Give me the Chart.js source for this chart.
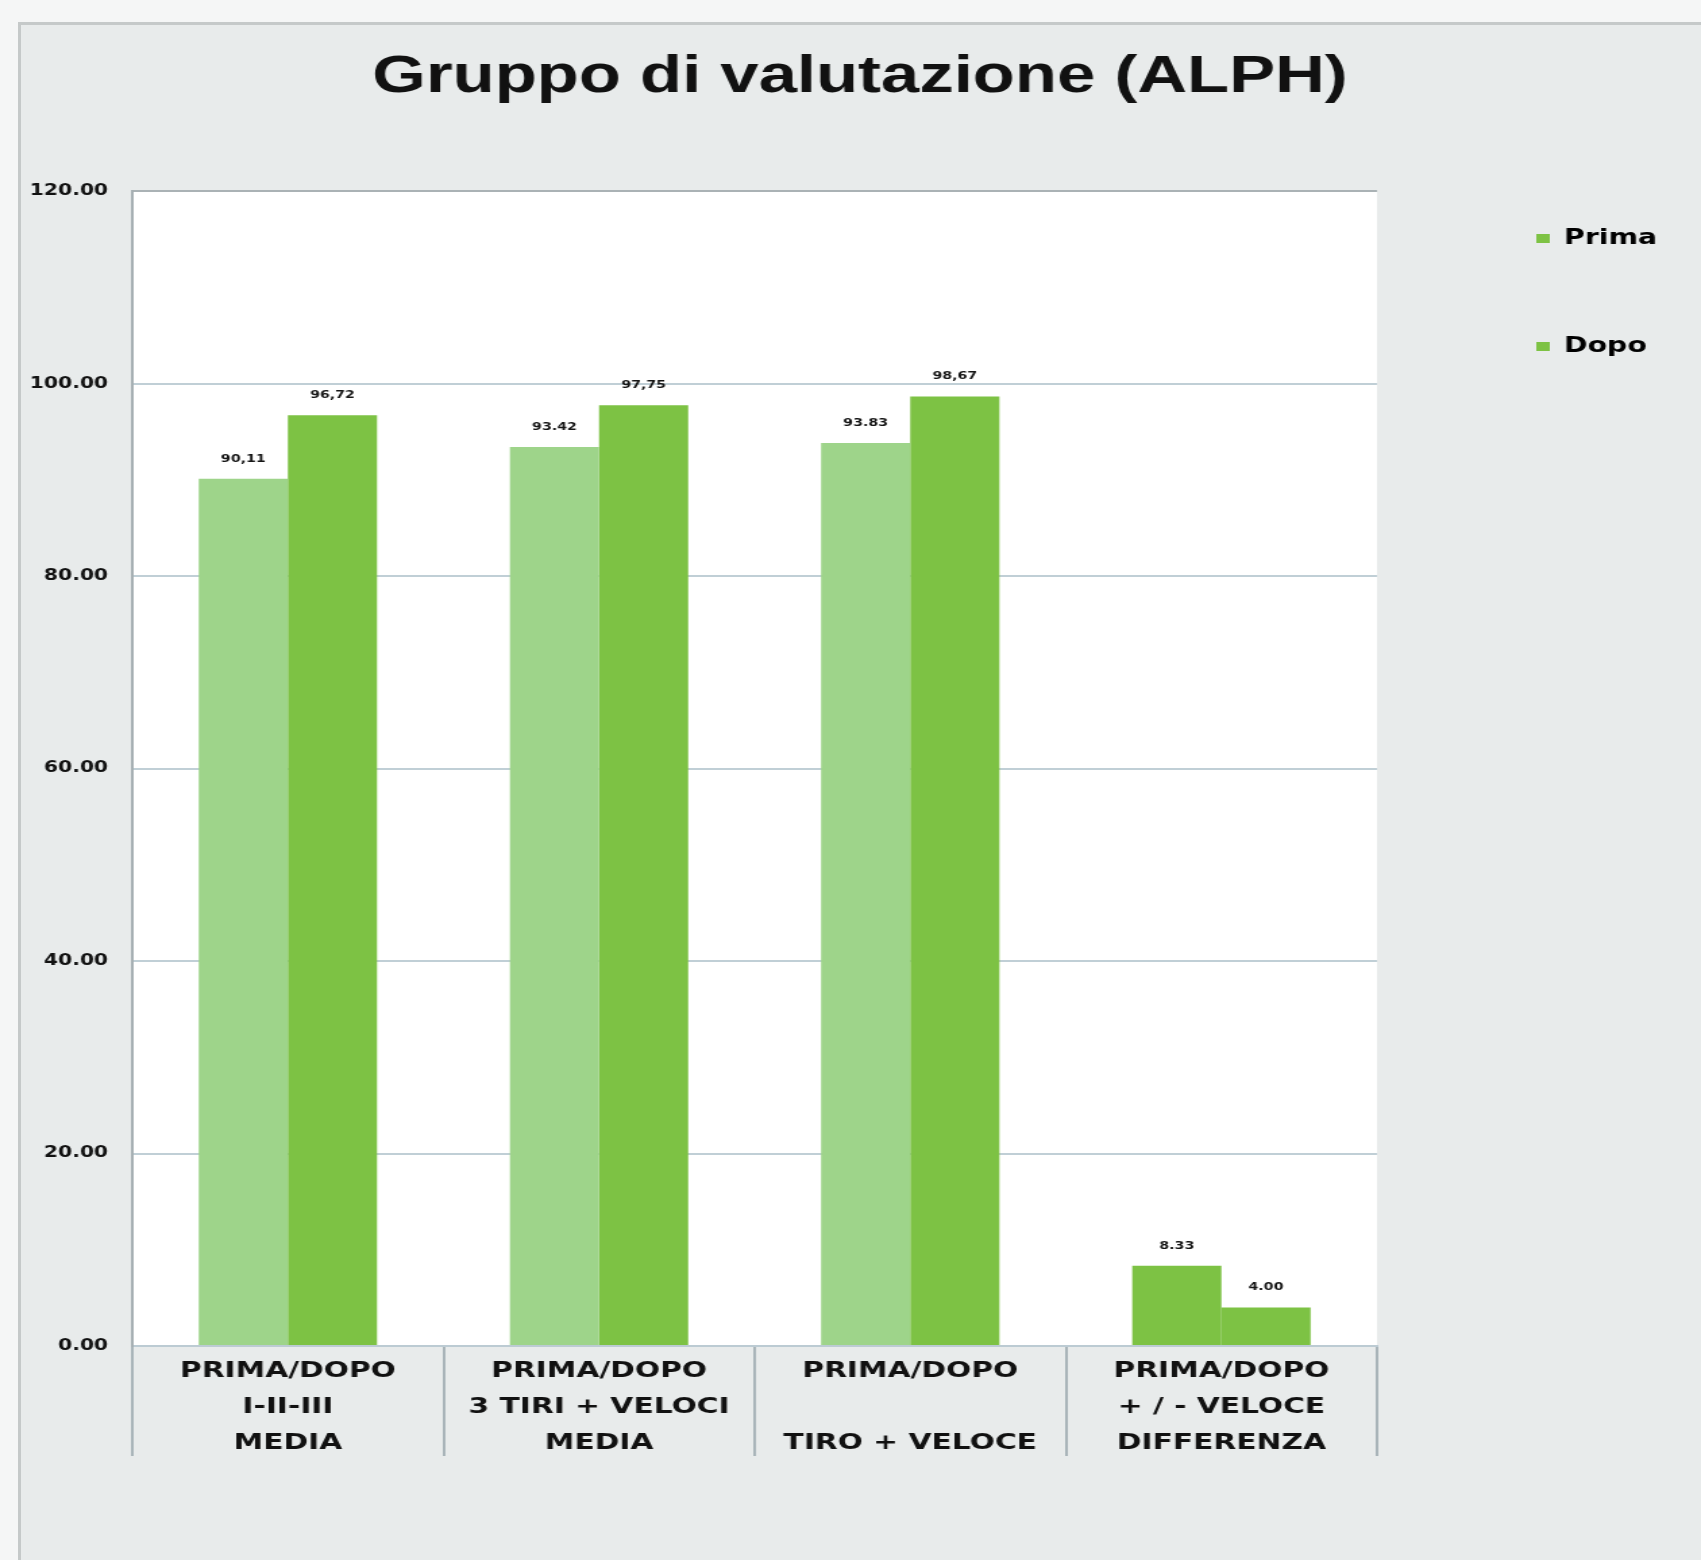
<!DOCTYPE html>
<html>
<head>
<meta charset="utf-8">
<script src="https://cdn.jsdelivr.net/npm/chart.js@4.4.1/dist/chart.umd.min.js"></script>
<style>
  html, body { margin: 0; padding: 0; background: #f5f6f6; overflow: hidden; width: 1701px; height: 1560px; }
  #frame { position: absolute; left: 18px; top: 22px; width: 1683px; height: 1538px; background: #e8ebeb;
           border-left: 3px solid #c5c9c9; border-top: 3px solid #c5c9c9; box-sizing: border-box; }
  #wrap { position: absolute; left: 0; top: 0; width: 1260px; height: 1560px; transform: scaleX(1.35); transform-origin: 0 0; }
</style>
</head>
<body>
<div id="frame"></div>
<div id="wrap"><canvas id="chart"></canvas></div>
<script>
// ---- data ----
const chartTitle = "Gruppo di valutazione (ALPH)";
const categories = [
  ["PRIMA/DOPO", "I-II-III", "MEDIA"],
  ["PRIMA/DOPO", "3 TIRI + VELOCI", "MEDIA"],
  ["PRIMA/DOPO", "", "TIRO + VELOCE"],
  ["PRIMA/DOPO", "+ / - VELOCE", "DIFFERENZA"]
];
const seriesNames = ["Prima", "Dopo"];
const primaValues = [90.11, 93.42, 93.83, 8.33];
const dopoValues = [96.72, 97.75, 98.67, 4.00];
const primaLabels = ["90,11", "93.42", "93.83", "8.33"];
const dopoLabels = ["96,72", "97,75", "98,67", "4.00"];
const yTickValues = [0, 20, 40, 60, 80, 100, 120];

// ---- styling ----
const LIGHT_GREEN = "#9ed48a";
const GREEN = "#7dc244";
const FONT = "'DejaVu Sans', sans-serif";
const LEGEND_W = 240;

const plotBackground = {
  id: "plotBackground",
  beforeDraw(chart) {
    const { ctx, chartArea: a } = chart;
    ctx.save();
    ctx.fillStyle = "#ffffff";
    ctx.fillRect(a.left, a.top, a.right - a.left, a.bottom - a.top);
    ctx.restore();
  }
};

const legendPlace = {
  id: "legendPlace",
  afterInit(chart) {
    const lg = chart.legend;
    const origFit = lg.fit;
    lg.fit = function () { origFit.call(this); this.width = LEGEND_W; };
  },
  afterLayout(chart) {
    const lg = chart.legend;
    const pad = lg.options.labels.padding;
    lg.left = 1138 - pad;
    lg.top = 228 - pad;
  }
};

const barLabels = {
  id: "barLabels",
  afterDatasetsDraw(chart) {
    const ctx = chart.ctx;
    const texts = [primaLabels, dopoLabels];
    ctx.save();
    ctx.font = "bold 10.5px " + FONT;
    ctx.fillStyle = "#151515";
    ctx.textAlign = "center";
    ctx.textBaseline = "middle";
    chart.data.datasets.forEach((ds, i) => {
      chart.getDatasetMeta(i).data.forEach((el, j) => {
        ctx.fillText(texts[i][j], el.x, el.y - 20);
      });
    });
    ctx.restore();
  }
};

new Chart(document.getElementById("chart"), {
  type: "bar",
  data: {
    labels: categories,
    datasets: [
      {
        label: seriesNames[0],
        data: primaValues,
        backgroundColor: (c) => (c.dataIndex === 3 ? GREEN : LIGHT_GREEN),
        borderWidth: 0
      },
      {
        label: seriesNames[1],
        data: dopoValues,
        backgroundColor: GREEN,
        borderWidth: 0
      }
    ]
  },
  options: {
    responsive: true,
    maintainAspectRatio: false,
    devicePixelRatio: 1,
    animation: false,
    layout: { padding: { left: 14, right: 0, top: 0, bottom: 0 } },
    datasets: { bar: { categoryPercentage: 0.573, barPercentage: 1.0 } },
    plugins: {
      title: {
        display: true,
        text: chartTitle,
        color: "#111111",
        font: { family: "'Liberation Sans', sans-serif", weight: "bold", size: 51 },
        padding: { top: 47, bottom: 83 }
      },
      legend: {
        display: true,
        position: "right",
        align: "start",
        labels: {
          color: "#111111",
          font: { family: FONT, weight: "bold", size: 21 },
          boxWidth: 10,
          boxHeight: 9,
          padding: 87,
          generateLabels: (chart) => chart.data.datasets.map((ds, i) => ({
            text: ds.label,
            fillStyle: GREEN,
            strokeStyle: GREEN,
            lineWidth: 0,
            datasetIndex: i
          }))
        }
      },
      tooltip: { enabled: false }
    },
    scales: {
      x: {
        offset: true,
        grid: {
          display: true,
          offset: true,
          drawOnChartArea: false,
          drawTicks: true,
          tickLength: 110,
          color: "#a9b4b9",
          lineWidth: 2
        },
        border: { display: true, color: "#bccbd3", width: 2 },
        ticks: {
          autoSkip: false,
          maxRotation: 0,
          minRotation: 0,
          padding: -103,
          color: "#111111",
          font: { family: FONT, weight: "bold", size: 22, lineHeight: 1.64 }
        },
        afterFit: (s) => { s.height = 214; }
      },
      y: {
        min: 0,
        max: 120,
        afterBuildTicks: (s) => { s.ticks = yTickValues.map((v) => ({ value: v })); },
        grid: {
          drawTicks: false,
          color: (c) => (c.tick && c.tick.value === 120 ? "#aab2b5" : "#c0cfd6"),
          lineWidth: 2
        },
        border: { display: true, color: "#a6afb3", width: 2 },
        ticks: {
          padding: 18,
          color: "#111111",
          font: { family: FONT, weight: "bold", size: 15 },
          callback: (v) => Number(v).toFixed(2)
        },
        afterFit: (s) => { s.width = 84; }
      }
    }
  },
  plugins: [plotBackground, legendPlace, barLabels]
});
</script>
</body>
</html>
